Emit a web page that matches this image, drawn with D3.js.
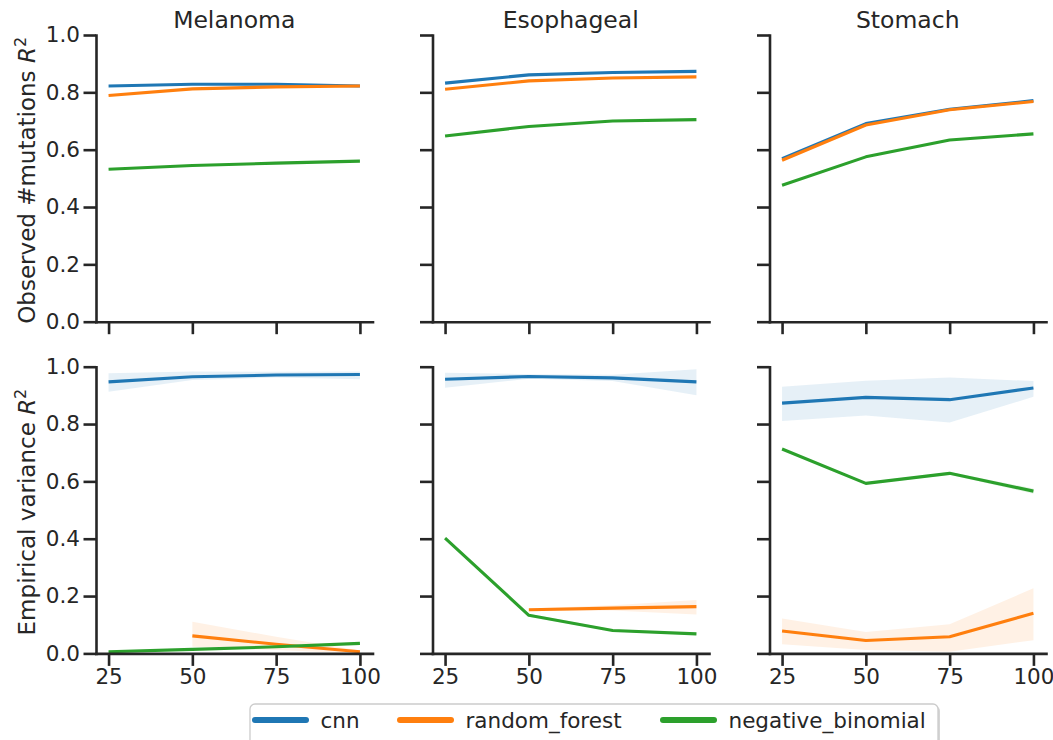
<!DOCTYPE html>
<html lang="en">
<head>
	<meta charset="utf-8">
	<title>R2 by training size</title>
	<script src="https://d3js.org/d3.v7.min.js"></script>
	<style type="text/css">
		body {
			margin: 0;
			background: white;
		}
		svg text {
			font-family: "DejaVu Sans", sans-serif;
			fill: #262626;
		}
		.axis path, .axis line {
			stroke: #262626;
			stroke-width: 2.6;
		}
		.axis path {
			stroke-linecap: square;
		}
		.axis text {
			font-size: 21.5px;
		}
		.title {
			font-size: 23.5px;
		}
		.ylab {
			font-size: 23px;
		}
		.legend text {
			font-size: 21.5px;
		}
	</style>
</head>
<body>
	<svg id="chart-svg"></svg>

	<script type="text/javascript">
		// Data -------------------------
		let sizes = [25, 50, 75, 100]
		let cancers = ['Melanoma', 'Esophageal', 'Stomach']
		let models = ['cnn', 'random_forest', 'negative_binomial']
		let yTicks = [0, 0.2, 0.4, 0.6, 0.8, 1.0]
		let rowLabels = ['Observed #mutations', 'Empirical variance']

		// top row: observed #mutations R2 (one list per cancer)
		let obsCnn = [
			[0.822, 0.828, 0.828, 0.822],
			[0.832, 0.861, 0.869, 0.873],
			[0.569, 0.691, 0.741, 0.771]
		]
		let obsRf = [
			[0.789, 0.812, 0.819, 0.822],
			[0.811, 0.840, 0.850, 0.854],
			[0.563, 0.686, 0.739, 0.768]
		]
		let obsNb = [
			[0.532, 0.545, 0.553, 0.560],
			[0.648, 0.681, 0.700, 0.705],
			[0.476, 0.575, 0.634, 0.655]
		]

		// bottom row: empirical variance R2, mean and CI bounds
		let varCnn = [
			[0.947, 0.965, 0.971, 0.973],
			[0.956, 0.966, 0.961, 0.947],
			[0.873, 0.893, 0.885, 0.926]
		]
		let varCnnLo = [
			[0.913, 0.954, 0.962, 0.956],
			[0.927, 0.958, 0.950, 0.900],
			[0.811, 0.830, 0.805, 0.895]
		]
		let varCnnHi = [
			[0.977, 0.983, 0.982, 0.983],
			[0.979, 0.974, 0.972, 0.991],
			[0.930, 0.951, 0.962, 0.950]
		]
		let varRf = [
			[null, 0.061, 0.032, 0.006],
			[null, 0.152, 0.158, 0.163],
			[0.078, 0.045, 0.058, 0.140]
		]
		let varRfLo = [
			[null, 0.023, 0.012, 0.000],
			[null, 0.147, 0.150, 0.136],
			[0.032, 0.012, 0.006, 0.046]
		]
		let varRfHi = [
			[null, 0.110, 0.058, 0.010],
			[null, 0.157, 0.168, 0.186],
			[0.122, 0.075, 0.102, 0.227]
		]
		let varNb = [
			[0.006, 0.014, 0.023, 0.035],
			[0.402, 0.133, 0.080, 0.068],
			[0.713, 0.593, 0.628, 0.566]
		]
		let varNbLo = [
			[0.004, 0.012, 0.020, 0.031],
			[0.397, 0.128, 0.076, 0.064],
			[0.709, 0.589, 0.623, 0.557]
		]
		let varNbHi = [
			[0.008, 0.016, 0.026, 0.039],
			[0.407, 0.138, 0.084, 0.072],
			[0.717, 0.597, 0.633, 0.575]
		]
	</script>

	<script type="text/javascript">
		// Parameters -------------------
		let w = 1053
		let h = 740
		let colors = ['#1f77b4', '#ff7f0e', '#2ca02c']
		let panelLeft = [96, 432.5, 769.5]
		let panelW = 276.5
		let rowTop = [35, 366.7]
		let panelH = 286.7

		let svg = d3.select('#chart-svg')
			.attr('width', w)
			.attr('height', h)

		let rows = [
			{ mean: [obsCnn, obsRf, obsNb], lo: null, hi: null },
			{ mean: [varCnn, varRf, varNb], lo: [varCnnLo, varRfLo, varNbLo], hi: [varCnnHi, varRfHi, varNbHi] }
		]

		rows.forEach(function(row, r) {
			cancers.forEach(function(cancer, c) {
				let x0 = panelLeft[c]
				let y0 = rowTop[r]

				let xScale = d3.scaleLinear()
					.domain([21.25, 103.75])
					.range([x0, x0 + panelW])
				let yScale = d3.scaleLinear()
					.domain([0, 1])
					.range([y0 + panelH, y0])

				let grp = svg.append('g')

				// confidence bands
				if (row.lo) {
					models.forEach(function(m, k) {
						let pts = sizes.map((s, i) => ({ s: s, lo: row.lo[k][c][i], hi: row.hi[k][c][i] }))
						let area = d3.area()
							.defined(d => d.lo != null)
							.x(d => xScale(d.s))
							.y0(d => yScale(d.lo))
							.y1(d => yScale(d.hi))
						grp.append('path')
							.datum(pts)
							.attr('d', area)
							.attr('fill', colors[k])
							.attr('fill-opacity', 0.11)
					})
				}

				// mean lines
				models.forEach(function(m, k) {
					let pts = sizes.map((s, i) => ({ s: s, v: row.mean[k][c][i] }))
					let line = d3.line()
						.defined(d => d.v != null)
						.x(d => xScale(d.s))
						.y(d => yScale(d.v))
					grp.append('path')
						.datum(pts)
						.attr('d', line)
						.attr('fill', 'none')
						.attr('stroke', colors[k])
						.attr('stroke-width', 3.1)
						.attr('stroke-linejoin', 'round')
				})

				// axes
				let yAxis = d3.axisLeft(yScale)
					.tickValues(yTicks)
					.tickSize(12.5)
					.tickSizeOuter(0)
					.tickPadding(3.5)
					.tickFormat(c == 0 ? d3.format('.1f') : '')
				grp.append('g')
					.attr('class', 'axis')
					.attr('transform', 'translate(' + x0 + ',0)')
					.call(yAxis)

				let xAxis = d3.axisBottom(xScale)
					.tickValues(sizes)
					.tickSize(12.5)
					.tickSizeOuter(0)
					.tickPadding(2.8)
					.tickFormat(r == 1 ? d3.format('d') : '')
				grp.append('g')
					.attr('class', 'axis')
					.attr('transform', 'translate(0,' + (y0 + panelH) + ')')
					.call(xAxis)

				if (r == 0) {
					svg.append('text')
						.attr('class', 'title')
						.attr('x', x0 + panelW / 2)
						.attr('y', 28.3)
						.attr('text-anchor', 'middle')
						.text(cancer)
				}
			})

			// row y label
			let cy = rowTop[r] + panelH / 2 + 2
			let lab = svg.append('text')
				.attr('class', 'ylab')
				.attr('text-anchor', 'middle')
				.attr('transform', 'translate(35,' + cy + ') rotate(-90)')
			lab.append('tspan').text(rowLabels[r] + ' ')
			lab.append('tspan').attr('font-style', 'italic').text('R')
			lab.append('tspan')
				.attr('font-size', '16px')
				.attr('dy', '-9')
				.text('2')
		})

		// legend -----------------------
		let leg = svg.append('g').attr('class', 'legend')
		leg.append('rect')
			.attr('x', 252)
			.attr('y', 706)
			.attr('width', 688)
			.attr('height', 60)
			.attr('rx', 5)
			.attr('fill', '#888')
			.attr('fill-opacity', 0.35)
		leg.append('rect')
			.attr('x', 250)
			.attr('y', 704)
			.attr('width', 688)
			.attr('height', 60)
			.attr('rx', 5)
			.attr('fill', 'white')
			.attr('stroke', '#cccccc')
			.attr('stroke-width', 1.3)

		let legX = [255, 400, 663]
		models.forEach(function(m, k) {
			leg.append('line')
				.attr('x1', legX[k])
				.attr('x2', legX[k] + 51)
				.attr('y1', 720)
				.attr('y2', 720)
				.attr('stroke', colors[k])
				.attr('stroke-width', 6)
				.attr('stroke-linecap', 'round')
			leg.append('text')
				.attr('x', legX[k] + 65.5)
				.attr('y', 728)
				.text(m)
		})
	</script>
</body>
</html>
